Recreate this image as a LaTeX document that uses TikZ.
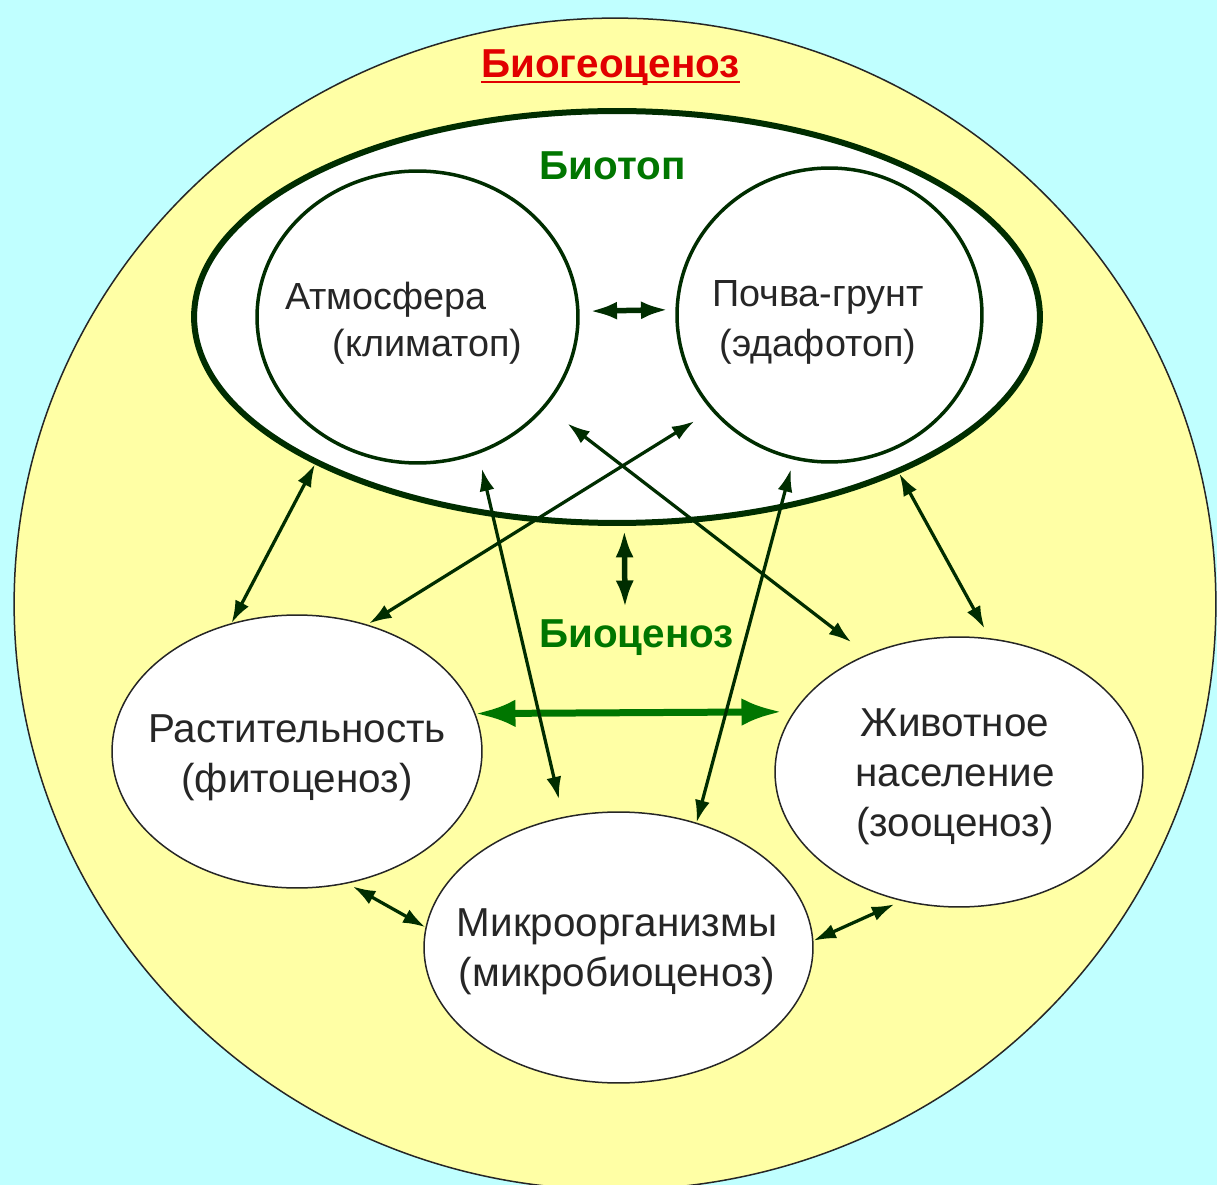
\documentclass[tikz,border=0pt]{standalone}
\usepackage{fontspec}
\setmainfont{Liberation Sans}
\usetikzlibrary{shapes.geometric,arrows.meta}
\definecolor{hintergrund}{RGB}{192,255,255}
\definecolor{gelb}{RGB}{255,255,165}
\definecolor{dunkelgruen}{RGB}{0,45,0}
\definecolor{gruen}{RGB}{0,118,0}
\definecolor{rot}{RGB}{225,0,0}
\begin{document}
\begin{tikzpicture}[x=0.02cm, y=-0.02cm,
	oval/.style={ellipse, draw=black!85, line width=0.03cm, fill=white, inner sep=0pt},
	kreis/.style={ellipse, draw=dunkelgruen, line width=0.07cm, inner sep=0pt},
	schrift/.style={font=\fontsize{23pt}{28.5pt}\selectfont, text=black!85, align=center, inner sep=0pt},
	kleinschrift/.style={font=\fontsize{21.5pt}{28.5pt}\selectfont, text=black!85, align=center, inner sep=0pt},
	titel/.style={font=\fontsize{23pt}{28.5pt}\selectfont\bfseries, anchor=base, inner sep=0pt},
	pfeil/.style={draw=dunkelgruen, line width=0.065cm, {Latex[length=0.45cm,width=0.3cm]}-{Latex[length=0.45cm,width=0.3cm]}},
	dickpfeil/.style={draw=dunkelgruen, line width=0.11cm, {Latex[length=0.55cm,width=0.36cm]}-{Latex[length=0.55cm,width=0.36cm]}}]
	\fill[hintergrund] (0,0) rectangle (1217,1185);
	\useasboundingbox (0,0) rectangle (1217,1185);

	\node[ellipse, draw=black!85, line width=0.03cm, fill=gelb, minimum width=24.04cm, minimum height=23.44cm] (geo) at (615,604) {};%grosser Kreis
	\node[ellipse, draw=dunkelgruen, line width=0.12cm, fill=white, minimum width=16.92cm, minimum height=8.24cm, inner sep=0pt] (biotop) at (617,317) {};%Biotop
	\node[kreis, minimum width=6.42cm, minimum height=5.84cm] (atm) at (417.5,317) {};%linker Kreis
	\node[kreis, minimum width=6.1cm, minimum height=5.88cm] (pochva) at (829.5,315) {};%rechter Kreis
	\node[oval, minimum width=7.4cm, minimum height=5.46cm] (rast) at (297,751.5) {};
	\node[oval, minimum width=7.36cm, minimum height=5.4cm] (zhiv) at (959,772) {};
	\node[oval, minimum width=7.78cm, minimum height=5.42cm] (mikro) at (618.5,947.5) {};

	\node[titel, text=rot] (bgc) at (610.5,78) {Биогеоценоз};
	\draw[rot, line width=0.055cm] ([yshift=-0.08cm]bgc.base west) -- ([yshift=-0.08cm]bgc.base east);%Unterstrich
	\node[titel, text=gruen] (bt) at (612.5,180) {Биотоп};
	\node[titel, text=gruen] (bc) at (636.5,647) {Биоценоз};

	\node[kleinschrift, anchor=base] (atm1) at (386,310) {Атмосфера};
	\node[kleinschrift, anchor=base] (atm2) at (427.5,357) {(климатоп)};
	\node[kleinschrift] (pochtxt) at (818,322) {Почва-грунт\\(эдафотоп)};
	\node[schrift] (rasttxt) at (297,758) {Растительность\\(фитоценоз)};
	\node[schrift] (zhivtxt) at (955,777) {Животное\\население\\(зооценоз)};
	\node[schrift] (mikrotxt) at (617,952) {Микроорганизмы\\(микробиоценоз)};

	\coordinate (bz) at (625,608);
	\draw[dickpfeil, shorten <=0.2cm, shorten >=0.14cm] (atm.2) -- (pochva.178);
	\draw[dickpfeil, shorten <=0.08cm] (biotop.-88) -- (bz);
	\draw[draw=gruen, line width=0.14cm, {Latex[length=0.8cm,width=0.55cm]}-{Latex[length=0.8cm,width=0.55cm]}, shorten >=0.24cm] (rast.12.3) -- (zhiv.160);%Verbindung horizontal

	\draw[pfeil] (biotop.206.3) -- (rast.117.5);
	\draw[pfeil, shorten >=0.22cm] (biotop.-29.3) -- (zhiv.77.1);
	\draw[pfeil, shorten <=0.3cm, shorten >=0.36cm] (atm.-66.4) -- (mikro.113.6);
	\draw[pfeil, shorten <=0.2cm] (pochva.-104.6) -- (mikro.58.4);
	\draw[pfeil, shorten <=0.4cm, shorten >=0.04cm] (pochva.219.2) -- (rast.61.6);
	\draw[pfeil, shorten <=0.54cm, shorten >=0.4cm] (atm.-35.3) -- (zhiv.128.8);
	\draw[pfeil, shorten <=0.12cm] (rast.-69.4) -- (mikro.174.3);
	\draw[pfeil, shorten >=0.16cm] (mikro.2.8) -- (zhiv.-114.9);
\end{tikzpicture}
\end{document}
